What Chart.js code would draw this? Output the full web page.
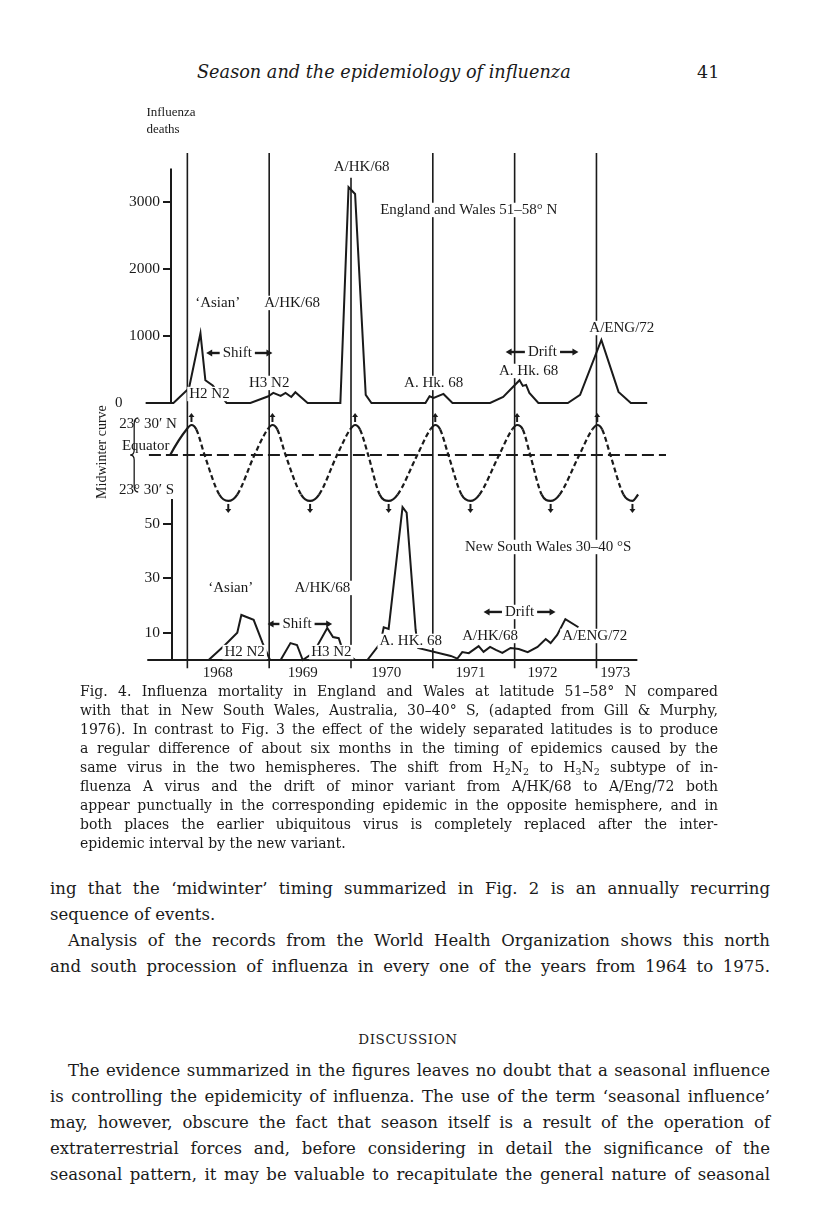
<!DOCTYPE html>
<html lang="en">
<head>
<meta charset="UTF-8">
<title>Season and the epidemiology of influenza</title>
<script src="https://cdn.jsdelivr.net/npm/chart.js"></script>
<style>
  body { margin: 0; background: #fff; }
  #page { position: relative; width: 816px; height: 1229px; overflow: hidden; color: #1a1a1a; font-family: "DejaVu Serif", serif; }
  #chartBox { position: absolute; left: 0; top: 100px; width: 816px; height: 590px; }
  .abs { position: absolute; white-space: nowrap; }
  .lines div { white-space: nowrap; text-align: justify; text-align-last: justify; }
  .lines div.last { text-align-last: left; }
  .lines div.ind { padding-left: 18px; }
  sub { font-size: 0.68em; line-height: 0; vertical-align: -0.3em; }
  #caption { position: absolute; left: 80px; width: 638px; top: 681.5px; font-size: 14px; line-height: 19px; }
  #body1 { position: absolute; left: 50px; width: 720px; top: 876px; font-size: 16.5px; line-height: 26px; }
  #body2 { position: absolute; left: 50px; width: 720px; top: 1058px; font-size: 16.5px; line-height: 26px; }
</style>
</head>
<body>
<div id="page">
  <div class="abs" style="left:197px; top:62px; font-size:17.7px; line-height:20px; font-style:italic;">Season and the epidemiology of influenza</div>
  <div class="abs" style="left:697px; top:62px; font-size:17.5px; line-height:20px;">41</div>

  <div id="chartBox"><canvas id="fig4"></canvas></div>

  <div id="caption" class="lines">
    <div class="fit">Fig. 4. Influenza mortality in England and Wales at latitude 51–58° N compared</div>
    <div class="fit">with that in New South Wales, Australia, 30–40° S, (adapted from Gill &amp; Murphy,</div>
    <div class="fit">1976). In contrast to Fig. 3 the effect of the widely separated latitudes is to produce</div>
    <div class="fit">a regular difference of about six months in the timing of epidemics caused by the</div>
    <div class="fit">same virus in the two hemispheres. The shift from H<sub>2</sub>N<sub>2</sub> to H<sub>3</sub>N<sub>2</sub> subtype of in-</div>
    <div class="fit">fluenza A virus and the drift of minor variant from A/HK/68 to A/Eng/72 both</div>
    <div class="fit">appear punctually in the corresponding epidemic in the opposite hemisphere, and in</div>
    <div class="fit">both places the earlier ubiquitous virus is completely replaced after the inter-</div>
    <div class="last">epidemic interval by the new variant.</div>
  </div>

  <div id="body1" class="lines">
    <div class="fit">ing that the ‘midwinter’ timing summarized in Fig. 2 is an annually recurring</div>
    <div class="last">sequence of events.</div>
    <div class="fit ind">Analysis of the records from the World Health Organization shows this north</div>
    <div class="fit">and south procession of influenza in every one of the years from 1964 to 1975.</div>
  </div>

  <div class="abs" style="left:0; width:816px; text-align:center; top:1029px; font-size:13.5px; line-height:20px; letter-spacing:0.6px;">DISCUSSION</div>

  <div id="body2" class="lines">
    <div class="fit ind">The evidence summarized in the figures leaves no doubt that a seasonal influence</div>
    <div class="fit">is controlling the epidemicity of influenza. The use of the term ‘seasonal influence’</div>
    <div class="fit">may, however, obscure the fact that season itself is a result of the operation of</div>
    <div class="fit">extraterrestrial forces and, before considering in detail the significance of the</div>
    <div class="fit">seasonal pattern, it may be valuable to recapitulate the general nature of seasonal</div>
  </div>
</div>

<script>
  // England and Wales, influenza deaths (x = time in years)
  const ewYears = [1967.49, 1967.83, 1968.02, 1968.16, 1968.22, 1968.31, 1968.48, 1968.77, 1968.99, 1969.05,
    1969.14, 1969.20, 1969.27, 1969.32, 1969.47, 1969.87, 1969.97, 1970.05, 1970.18, 1970.25,
    1970.91, 1970.96, 1971.01, 1971.13, 1971.24, 1971.70, 1971.86, 1972.06, 1972.10, 1972.14,
    1972.18, 1972.29, 1972.65, 1972.80, 1973.06, 1973.27, 1973.42, 1973.62];
  const ewDeaths = [0, 0, 220, 1040, 340, 260, 0, 0, 100, 150,
    105, 150, 90, 160, 0, 0, 3220, 3120, 120, 0,
    0, 100, 75, 135, 0, 0, 90, 340, 255, 270,
    150, 0, 0, 120, 940, 165, 0, 0];

  // midwinter curve (declination of the sun, degrees)
  const midYears = [1967.67, 1967.79,
    1967.99, 1968.05, 1968.11, 1968.21, 1968.39, 1968.50, 1968.61, 1968.82,
    1968.98, 1969.04, 1969.10, 1969.20, 1969.39, 1969.50, 1969.61, 1969.83,
    1969.99, 1970.05, 1970.11, 1970.21, 1970.35, 1970.46, 1970.57, 1970.81,
    1970.97, 1971.03, 1971.09, 1971.19, 1971.35, 1971.46, 1971.57, 1971.81,
    1971.97, 1972.03, 1972.10, 1972.19, 1972.33, 1972.44, 1972.55, 1972.79,
    1972.95, 1973.01, 1973.07, 1973.17, 1973.33, 1973.44, 1973.51];
  const midDecl = [-16.5, 0,
    20, 23.5, 20, 0, -31, -36, -31, 0,
    20, 23.5, 20, 0, -31, -36, -31, 0,
    20, 23.5, 20, 0, -31, -36, -31, 0,
    20, 23.5, 20, 0, -31, -36, -31, 0,
    20, 23.5, 20, 0, -31, -36, -31, 0,
    20, 23.5, 20, 0, -31, -36, -31];
  const equatorYears = [1967.53, 1973.85];
  const equatorDecl = [0, 0];

  // New South Wales, influenza deaths
  const nswYears = [1968.26, 1968.46, 1968.61, 1968.66, 1968.81, 1968.92, 1969.01, 1969.14, 1969.26, 1969.34,
    1969.41, 1969.54, 1969.71, 1969.78, 1969.85, 1969.91, 1969.99, 1970.05, 1970.20, 1970.36,
    1970.40, 1970.46, 1970.63, 1970.68, 1970.79, 1970.82, 1971.22, 1971.30, 1971.36, 1971.44,
    1971.56, 1971.62, 1971.70, 1971.77, 1971.85, 1971.95, 1972.05, 1972.16, 1972.28, 1972.38,
    1972.44, 1972.52, 1972.62, 1972.78];
  const nswDeaths = [0, 5.5, 10, 16.5, 14.7, 6.2, 0, 0, 6.2, 5.5,
    0, 2.6, 11.7, 8.4, 8, 2.6, 1.5, 0, 0, 6.2,
    12, 11.4, 56, 54, 11, 4.4, 1.5, 0.5, 2.9, 2.5,
    5.1, 3, 4.8, 3.7, 2.6, 4.4, 4, 2.9, 4.8, 7.7,
    6.2, 9.2, 15, 12];
  const nswBaseYears = [1967.51, 1973.50];
  const nswBase = [0, 0];

  // ticks and year markers
  const ewTicks = [1000, 2000, 3000];
  const nswTicks = [10, 20, 30, 40, 50];
  const yearLines = [1968, 1969, 1970, 1971, 1972, 1973];
  const yearLabels = ['1968', '1969', '1970', '1971', '1972', '1973'];

  // layout of the year labels and line tops (not data)
  const yearLabelAt = [1968.37, 1969.41, 1970.43, 1971.46, 1972.34, 1973.23];
  const yearLineTop = [3731, 3731, 3360, 3731, 3731, 3731];

  const notes = [
    { t: 'Influenza', x: 1967.50, ax: 'yEW', y: 4328, align: 'left', size: 13, bg: false },
    { t: 'deaths', x: 1967.50, ax: 'yEW', y: 4075, align: 'left', size: 13, bg: false },
    { t: '0', x: 1967.16, ax: 'yEW', y: 0 },
    { t: 'A/HK/68', x: 1970.13, ax: 'yEW', y: 3522 },
    { t: 'England and Wales 51–58° N', x: 1971.44, ax: 'yEW', y: 2881 },
    { t: '‘Asian’', x: 1968.37, ax: 'yEW', y: 1493 },
    { t: 'A/HK/68', x: 1969.28, ax: 'yEW', y: 1493 },
    { t: 'H2 N2', x: 1968.27, ax: 'yEW', y: 134 },
    { t: 'H3 N2', x: 1969.00, ax: 'yEW', y: 299 },
    { t: 'A. Hk. 68', x: 1971.01, ax: 'yEW', y: 299 },
    { t: 'A. Hk. 68', x: 1972.17, ax: 'yEW', y: 478 },
    { t: 'A/ENG/72', x: 1973.31, ax: 'yEW', y: 1119 },
    { t: '23° 30′ N', x: 1967.52, ax: 'yMid', y: 24.3, bg: false },
    { t: 'Equator', x: 1967.49, ax: 'yMid', y: 7.0, bg: false },
    { t: '23° 30′ S', x: 1967.50, ax: 'yMid', y: -27.4, bg: false },
    { t: '‘Asian’', x: 1968.53, ax: 'yNSW', y: 26.4 },
    { t: 'A/HK/68', x: 1969.65, ax: 'yNSW', y: 26.4 },
    { t: 'H2 N2', x: 1968.70, ax: 'yNSW', y: 2.9 },
    { t: 'H3 N2', x: 1969.76, ax: 'yNSW', y: 2.9 },
    { t: 'A. HK. 68', x: 1970.73, ax: 'yNSW', y: 7.0 },
    { t: 'New South Wales 30–40 °S', x: 1972.41, ax: 'yNSW', y: 41.4 },
    { t: 'A/HK/68', x: 1971.70, ax: 'yNSW', y: 8.8 },
    { t: 'A/ENG/72', x: 1972.98, ax: 'yNSW', y: 8.8 }
  ];
  const arrowNotes = [
    { t: 'Shift', ax: 'yEW', y: 746, x: 1968.61, from: 1968.23, to: 1969.04 },
    { t: 'Drift', ax: 'yEW', y: 761, x: 1972.34, from: 1971.89, to: 1972.78 },
    { t: 'Shift', ax: 'yNSW', y: 13.2, x: 1969.34, from: 1968.98, to: 1969.77 },
    { t: 'Drift', ax: 'yNSW', y: 17.6, x: 1972.06, from: 1971.62, to: 1972.50 }
  ];

  const ink = '#1a1a1a';
  const serif = '"Liberation Serif", "Times New Roman", serif';
  Chart.defaults.font.family = serif;
  Chart.defaults.font.size = 15;
  Chart.defaults.color = ink;

  const pts = (xs, ys) => xs.map((x, i) => ({ x: x, y: ys[i] }));

  function writeNote(ctx, text, x, y, size, align, bg) {
    ctx.font = size + 'px ' + serif;
    const w = ctx.measureText(text).width;
    const left = align === 'left' ? x : x - w / 2;
    if (bg) {
      ctx.fillStyle = '#fff';
      ctx.fillRect(left - 2, y - size * 0.48, w + 4, size * 0.96);
    }
    ctx.fillStyle = ink;
    ctx.textAlign = 'left';
    ctx.textBaseline = 'middle';
    ctx.fillText(text, left, y);
    return { left: left, right: left + w };
  }

  function hArrow(ctx, x0, x1, y) {
    const dir = Math.sign(x1 - x0);
    ctx.lineWidth = 2.4;
    ctx.beginPath(); ctx.moveTo(x0, y); ctx.lineTo(x1 - dir * 5, y); ctx.stroke();
    ctx.beginPath(); ctx.moveTo(x1, y); ctx.lineTo(x1 - dir * 6, y - 3.5); ctx.lineTo(x1 - dir * 6, y + 3.5); ctx.closePath(); ctx.fill();
  }

  function vArrow(ctx, x, y0, y1) {
    const dir = Math.sign(y1 - y0);
    ctx.lineWidth = 2;
    ctx.beginPath(); ctx.moveTo(x, y0); ctx.lineTo(x, y1 - dir * 3); ctx.stroke();
    ctx.beginPath(); ctx.moveTo(x, y1); ctx.lineTo(x - 3, y1 - dir * 4); ctx.lineTo(x + 3, y1 - dir * 4); ctx.closePath(); ctx.fill();
  }

  const figureMarks = {
    id: 'figureMarks',
    beforeDatasetsDraw(chart) {
      const { ctx, scales } = chart;
      const x = scales.x, ew = scales.yEW, nsw = scales.yNSW;
      ctx.save();
      ctx.strokeStyle = ink;
      // year lines running through all three panels
      ctx.lineWidth = 1.6;
      yearLines.forEach((yr, i) => {
        const px = x.getPixelForValue(yr);
        ctx.beginPath();
        ctx.moveTo(px, ew.getPixelForValue(yearLineTop[i]));
        ctx.lineTo(px, nsw.getPixelForValue(-3));
        ctx.stroke();
      });
      // the two y axis lines
      ctx.lineWidth = 2;
      const ax = chart.chartArea.left;
      ctx.beginPath();
      ctx.moveTo(ax, ew.getPixelForValue(3500)); ctx.lineTo(ax, ew.getPixelForValue(0));
      ctx.moveTo(ax + 1, nsw.getPixelForValue(59)); ctx.lineTo(ax + 1, nsw.getPixelForValue(0));
      ctx.stroke();
      ctx.restore();
    },
    afterDatasetsDraw(chart) {
      const { ctx, scales } = chart;
      const x = scales.x;
      ctx.save();
      ctx.strokeStyle = ink;
      ctx.fillStyle = ink;

      // arrows above each northern midwinter and below each southern midwinter
      const mid = chart.getDatasetMeta(1);
      const hi = Math.max(...midDecl), lo = Math.min(...midDecl);
      midDecl.forEach((v, i) => {
        const p = mid.data[i];
        if (v === hi) vArrow(ctx, p.x, p.y - 3, p.y - 12);
        if (v === lo) vArrow(ctx, p.x, p.y + 3, p.y + 12);
      });

      // brace and rotated title of the midwinter panel
      const m = scales.yMid;
      const bx = x.getPixelForValue(1967.35);
      const bt = m.getPixelForValue(29), bb = m.getPixelForValue(-29), bm = (bt + bb) / 2;
      ctx.lineWidth = 1.3;
      ctx.beginPath();
      ctx.moveTo(bx + 4, bt);
      ctx.quadraticCurveTo(bx, bt, bx, bt + 6);
      ctx.lineTo(bx, bm - 5);
      ctx.quadraticCurveTo(bx, bm, bx - 4, bm);
      ctx.quadraticCurveTo(bx, bm, bx, bm + 5);
      ctx.lineTo(bx, bb - 6);
      ctx.quadraticCurveTo(bx, bb, bx + 4, bb);
      ctx.stroke();

      ctx.save();
      ctx.translate(x.getPixelForValue(1966.96), m.getPixelForValue(2.3));
      ctx.rotate(-Math.PI / 2);
      ctx.font = '14px ' + serif;
      ctx.textAlign = 'center';
      ctx.textBaseline = 'middle';
      ctx.fillText('Midwinter curve', 0, 0);
      ctx.restore();

      // annotations
      notes.forEach(n => {
        writeNote(ctx, n.t, x.getPixelForValue(n.x), scales[n.ax].getPixelForValue(n.y),
          n.size || 15, n.align, n.bg !== false);
      });
      arrowNotes.forEach(n => {
        const py = scales[n.ax].getPixelForValue(n.y);
        const box = writeNote(ctx, n.t, x.getPixelForValue(n.x), py, 15, 'center', true);
        ctx.fillStyle = ink;
        hArrow(ctx, box.left - 3, x.getPixelForValue(n.from), py);
        hArrow(ctx, box.right + 3, x.getPixelForValue(n.to), py);
      });
      ctx.restore();
    }
  };

  const fixW = s => { s.width = 60; };
  const plain = v => String(v);
  const line = (extra) => Object.assign({
    borderColor: ink, borderWidth: 2, pointRadius: 0, tension: 0, clip: false, fill: false
  }, extra);

  new Chart(document.getElementById('fig4'), {
    type: 'line',
    data: {
      datasets: [
        line({ label: 'England and Wales', data: pts(ewYears, ewDeaths), yAxisID: 'yEW' }),
        line({
          label: 'Midwinter curve', data: pts(midYears, midDecl), yAxisID: 'yMid',
          cubicInterpolationMode: 'monotone', borderWidth: 2.2,
          segment: {
            borderDash: c => (c.p0DataIndex < 2 ||
              (Math.abs(c.p0.parsed.y) >= 20 && Math.abs(c.p1.parsed.y) >= 20)) ? undefined : [5, 3]
          }
        }),
        line({ label: 'Equator', data: pts(equatorYears, equatorDecl), yAxisID: 'yMid', borderDash: [12, 5], borderWidth: 2 }),
        line({ label: 'NSW baseline', data: pts(nswBaseYears, nswBase), yAxisID: 'yNSW', borderWidth: 2.2 }),
        line({ label: 'New South Wales', data: pts(nswYears, nswDeaths), yAxisID: 'yNSW' })
      ]
    },
    options: {
      responsive: true,
      maintainAspectRatio: false,
      animation: false,
      layout: { padding: { left: 111, top: 53, right: 150, bottom: 4 } },
      plugins: { legend: { display: false }, tooltip: { enabled: false } },
      scales: {
        x: {
          type: 'linear', min: 1967.80, max: 1973.85,
          grid: { display: false }, border: { display: false },
          afterBuildTicks: s => { s.ticks = yearLabelAt.map(v => ({ value: v })); },
          afterFit: s => { s.height = 24; },
          ticks: { autoSkip: false, maxRotation: 0, padding: -6, font: { size: 15 }, callback: (v, i) => yearLabels[i] }
        },
        yEW: {
          type: 'linear', position: 'left', stack: 'panels', stackWeight: 255, weight: 3,
          min: -75, max: 3731,
          afterBuildTicks: s => { s.ticks = ewTicks.map(v => ({ value: v })); },
          afterFit: fixW,
          border: { display: false },
          grid: { drawOnChartArea: false, tickLength: 8, color: ink, lineWidth: 2 },
          ticks: { padding: 3, font: { size: 15.5 }, callback: plain }
        },
        yMid: {
          type: 'linear', position: 'left', stack: 'panels', stackWeight: 108, weight: 2,
          min: -47.8, max: 36.8,
          afterFit: fixW,
          border: { display: false },
          grid: { display: false },
          ticks: { display: false }
        },
        yNSW: {
          type: 'linear', position: 'left', stack: 'panels', stackWeight: 146, weight: 1,
          min: -0.73, max: 52.75,
          afterBuildTicks: s => { s.ticks = nswTicks.map(v => ({ value: v })); },
          afterFit: fixW,
          border: { display: false },
          grid: { drawOnChartArea: false, tickLength: 8, color: ink, lineWidth: 2 },
          ticks: { padding: 3, font: { size: 15.5 }, callback: plain }
        }
      }
    },
    plugins: [figureMarks]
  });

  // squeeze any justified line that would overflow its column
  document.fonts.ready.then(() => {
    document.querySelectorAll('.fit').forEach(el => {
      let fs = parseFloat(getComputedStyle(el).fontSize);
      while (el.scrollWidth > el.clientWidth && fs > 8) {
        fs -= 0.25;
        el.style.fontSize = fs + 'px';
      }
    });
  });
</script>
</body>
</html>
